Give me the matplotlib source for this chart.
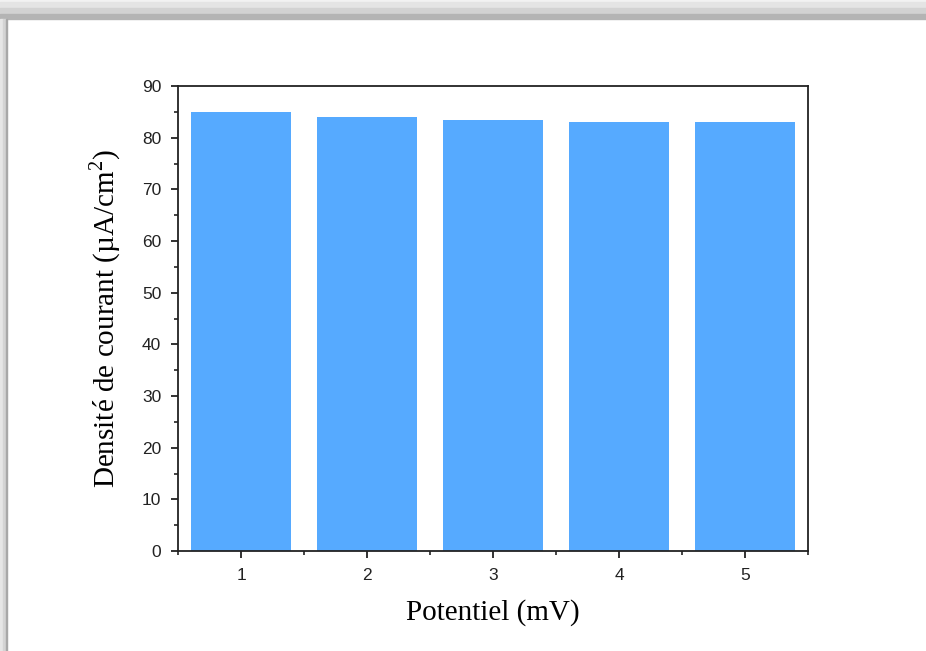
import matplotlib.pyplot as plt
from matplotlib.patches import Rectangle
from matplotlib.ticker import MultipleLocator

# data
potentiel = [1, 2, 3, 4, 5]
densite = [85, 84, 83.5, 83, 83]

plt.rcParams['mathtext.fontset'] = 'custom'
plt.rcParams['mathtext.rm'] = 'Liberation Serif'

fig = plt.figure(figsize=(9.26, 6.51), dpi=100)
fig.patch.set_facecolor('white')

# grey picture frame (shadow) along the top and left edge
W, H = 926, 651
top_bands = [(0, 2, '#f2f2f2'), (2, 8, '#e4e4e4'), (8, 14, '#d2d2d2'), (14, 19, '#b4b4b4')]
for y0, y1, c in top_bands:
    fig.patches.append(Rectangle((0, 1 - y1 / H), 1, (y1 - y0) / H,
                                 transform=fig.transFigure, color=c, zorder=0))
left_bands = [(0, 3, '#e6e6e6'), (3, 6, '#d4d4d4'), (6, 7, '#a8a8a8')]
for x0, x1, c in left_bands:
    fig.patches.append(Rectangle((x0 / W, 0), (x1 - x0) / W, 1 - 19 / H,
                                 transform=fig.transFigure, color=c, zorder=0))

ax = fig.add_axes([178 / W, 1 - 551 / H, 630 / W, 465 / H])
ax.bar(potentiel, densite, width=0.8, color='#56aaff', zorder=2)

ax.set_xlim(0.5, 5.5)
ax.set_ylim(0, 90)
ax.set_xticks(potentiel)
ax.xaxis.set_minor_locator(MultipleLocator(0.5))
ax.yaxis.set_major_locator(MultipleLocator(10))
ax.yaxis.set_minor_locator(MultipleLocator(5))

for s in ax.spines.values():
    s.set_linewidth(1.3)
    s.set_color('#222222')
ax.tick_params(which='major', direction='out', length=5, width=1.3,
               labelsize=12.5, colors='#222222', pad=7)
ax.tick_params(which='minor', direction='out', length=3, width=1.2, colors='#222222')
for lab in ax.get_xticklabels() + ax.get_yticklabels():
    lab.set_family('Liberation Sans')

ax.set_xlabel('Potentiel (mV)', family='Liberation Serif', fontsize=21, labelpad=12)
ax.set_ylabel('Densité de courant (µA/cm$^2$)', family='Liberation Serif',
              fontsize=21, labelpad=14)

fig.savefig('out.png', dpi=100)
